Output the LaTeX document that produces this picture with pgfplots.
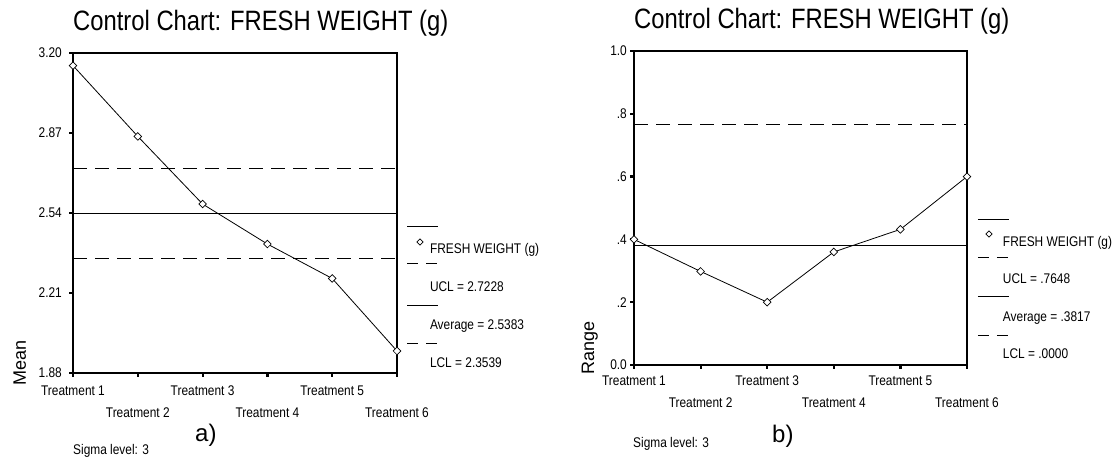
\documentclass[border=0pt]{standalone}
\usepackage{fontspec}
\setmainfont{Liberation Sans}
\newfontfamily\cond{Liberation Sans}[FakeStretch=0.85]
\usepackage{pgfplots}
\pgfplotsset{compat=1.18}
\newcommand\smallf{\cond\fontsize{14pt}{16pt}\selectfont}
\newcommand\titlef{\cond\fontsize{28pt}{30pt}\selectfont}
\newcommand\labf{\fontsize{18pt}{20pt}\selectfont}

\pgfplotstableread{
x y
1 3.148
2 2.856
3 2.577
4 2.412
5 2.270
6 1.971
}\meantab
\pgfplotstableread{
x y
1 0.400
2 0.298
3 0.200
4 0.360
5 0.432
6 0.600
}\rangetab

\pgfplotsset{
  cc/.style={
    scale only axis, anchor=south west,
    axis line style={line width=1.1pt},
    xmin=1, xmax=6, clip=false,
    tick align=outside, major tick length=4pt,
    every tick/.style={black, line width=2.2pt},
    xtick pos=bottom, ytick pos=left,
    /pgf/number format/assume math mode=true,
    tick label style={font=\smallf, inner sep=0pt},
    xtick={1,3,5},
    xticklabels={Treatment 1,Treatment 3,Treatment 5},
    extra x ticks={2,4,6},
    extra x tick labels={Treatment 2,Treatment 4,Treatment 6},
    extra x tick style={xticklabel style={yshift=-22pt}},
    ylabel style={anchor=base west, inner sep=0pt, font=\labf},
    title style={anchor=base west, inner sep=0pt, font=\titlef},
    legend cell align=left,
  },
  ccdata/.style={black, line width=0.8pt, mark=square*, mark size=2.7pt,
    mark options={rotate=45, fill=white, solid, line width=0.7pt}},
  ccdash/.style={black, line width=0.9pt, dash pattern=on 14pt off 8pt},
  ccsolid/.style={black, line width=0.9pt},
}

\begin{document}
\begin{tikzpicture}

% ---------- a) Mean chart ----------
\begin{axis}[cc,
  at={(73pt,84pt)}, width=324pt, height=320pt,
  xticklabel style={anchor=base, yshift=-19pt},
  ymin=1.88, ymax=3.20,
  ytick={1.88,2.21,2.54,2.87,3.20},
  yticklabels={1.88,2.21,2.54,2.87,3.20},
  yticklabel style={anchor=east, xshift=-7pt},
  ylabel={Mean},
  ylabel style={at={(axis description cs:-0.1451,-0.0406)}},
  title={Control Chart: FRESH WEIGHT (g)},
  title style={at={(axis description cs:0,1.0531)}},
  legend style={draw=none, fill=none, inner sep=0pt, outer sep=0pt,
    at={(axis description cs:1.0309,0.4047)}, anchor=north west,
    row sep=25pt, column sep=3pt,
    nodes={inner sep=0pt, text height=10pt, text depth=3pt, font=\smallf}},
]
\addplot[ccdash, forget plot] coordinates {(1,2.7228) (6,2.7228)};
\addplot[ccsolid, forget plot] coordinates {(1,2.5383) (6,2.5383)};
\addplot[ccdash, forget plot] coordinates {(1,2.3539) (6,2.3539)};
\addplot[ccdata, forget plot] table[x=x,y=y] {\meantab};

\addlegendimage{legend image code/.code={
  \path[draw=none, fill=none] (0pt,0pt) -- (20pt,0pt);
  \draw[overlay, black, solid, line width=0.8pt] (0pt,24pt) -- (31pt,24pt);
  \draw[overlay, black, solid, fill=white, line width=0.7pt] plot[mark=square*, mark size=2.2pt, mark options={rotate=45, fill=white}] coordinates {(13pt,8pt)};}}
\addlegendentry{FRESH WEIGHT (g)}
\addlegendimage{legend image code/.code={
  \path[draw=none, fill=none] (0pt,0pt) -- (20pt,0pt);
  \draw[overlay, black, line width=0.8pt, dash pattern=on 11pt off 8pt] (0pt,25pt) -- (31pt,25pt);}}
\addlegendentry{UCL = 2.7228}
\addlegendimage{legend image code/.code={
  \path[draw=none, fill=none] (0pt,0pt) -- (20pt,0pt);
  \draw[overlay, black, solid, line width=0.8pt] (0pt,21pt) -- (31pt,21pt);}}
\addlegendentry{Average = 2.5383}
\addlegendimage{legend image code/.code={
  \path[draw=none, fill=none] (0pt,0pt) -- (20pt,0pt);
  \draw[overlay, black, line width=0.8pt, dash pattern=on 11pt off 8pt] (0pt,21pt) -- (31pt,21pt);}}
\addlegendentry{LCL = 2.3539}
\end{axis}

% ---------- b) Range chart ----------
\begin{axis}[cc,
  at={(634pt,92pt)}, width=333pt, height=314pt,
  xticklabel style={anchor=base, yshift=-17pt},
  ymin=0, ymax=1,
  ytick={0,0.2,0.4,0.6,0.8,1.0},
  yticklabels={0.0,.2,.4,.6,.8,1.0},
  yticklabel style={anchor=east, xshift=-3pt},
  ylabel={Range},
  ylabel style={at={(axis description cs:-0.1201,-0.0318)}},
  title={Control Chart: FRESH WEIGHT (g)},
  title style={at={(axis description cs:0,1.0541)}},
  legend style={draw=none, fill=none, inner sep=0pt, outer sep=0pt,
    at={(axis description cs:1.033,0.409)}, anchor=north west,
    row sep=24.3pt, column sep=5pt,
    nodes={inner sep=0pt, text height=10pt, text depth=3pt, font=\smallf}},
]
\addplot[ccdash, forget plot] coordinates {(1,0.7648) (6,0.7648)};
\addplot[ccsolid, forget plot] coordinates {(1,0.3817) (6,0.3817)};
\addplot[ccdash, forget plot] coordinates {(1,0.0) (6,0.0)};
\addplot[ccdata, forget plot] table[x=x,y=y] {\rangetab};

\addlegendimage{legend image code/.code={
  \path[draw=none, fill=none] (0pt,0pt) -- (20pt,0pt);
  \draw[overlay, black, solid, line width=0.8pt] (0pt,24pt) -- (31pt,24pt);
  \draw[overlay, black, solid, fill=white, line width=0.7pt] plot[mark=square*, mark size=2.2pt, mark options={rotate=45, fill=white}] coordinates {(11pt,9pt)};}}
\addlegendentry{FRESH WEIGHT (g)}
\addlegendimage{legend image code/.code={
  \path[draw=none, fill=none] (0pt,0pt) -- (20pt,0pt);
  \draw[overlay, black, line width=0.8pt, dash pattern=on 11pt off 8pt] (0pt,23pt) -- (31pt,23pt);}}
\addlegendentry{UCL = .7648}
\addlegendimage{legend image code/.code={
  \path[draw=none, fill=none] (0pt,0pt) -- (20pt,0pt);
  \draw[overlay, black, solid, line width=0.8pt] (0pt,21pt) -- (31pt,21pt);}}
\addlegendentry{Average = .3817}
\addlegendimage{legend image code/.code={
  \path[draw=none, fill=none] (0pt,0pt) -- (20pt,0pt);
  \draw[overlay, black, line width=0.8pt, dash pattern=on 11pt off 8pt] (0pt,20pt) -- (31pt,20pt);}}
\addlegendentry{LCL = .0000}
\end{axis}

\node[anchor=base west, inner sep=0pt, font=\smallf] at (73pt,2pt) {Sigma level: 3};
\node[anchor=base west, inner sep=0pt, font=\fontsize{24pt}{26pt}\selectfont] at (195pt,15pt) {a)};
\node[anchor=base west, inner sep=0pt, font=\smallf] at (633pt,9pt) {Sigma level: 3};
\node[anchor=base west, inner sep=0pt, font=\fontsize{24pt}{26pt}\selectfont] at (772pt,14pt) {b)};

\pgfresetboundingbox
\useasboundingbox (0pt,0pt) rectangle (1113pt,457pt);
\end{tikzpicture}
\end{document}
